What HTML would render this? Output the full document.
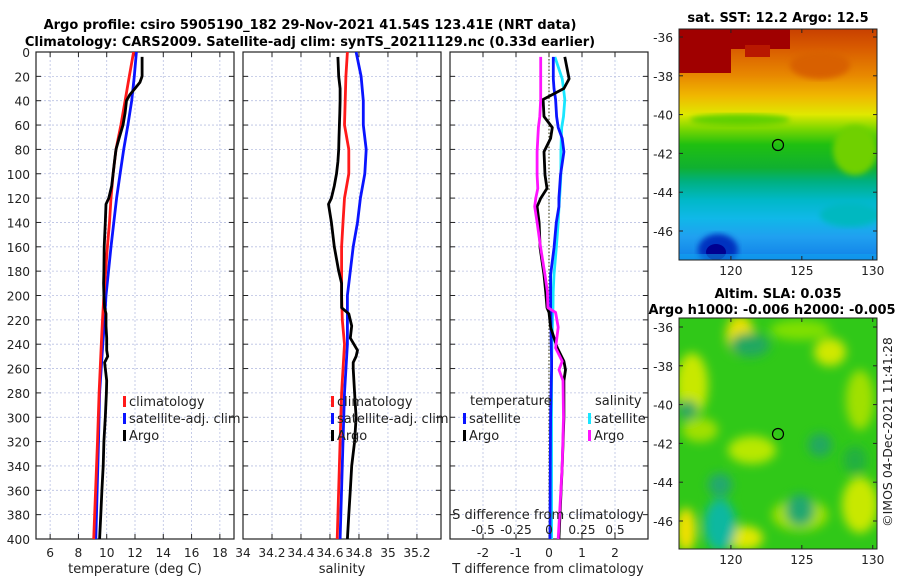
<!DOCTYPE html>
<html><head><meta charset="utf-8">
<style>
html,body{margin:0;padding:0;background:#fff;}
svg{display:block;font-family:"DejaVu Sans","Liberation Sans",sans-serif;}
</style></head>
<body>
<svg id="chart" width="900" height="580" viewBox="0 0 900 580">
<defs>
<linearGradient id="sstGrad" x1="0" y1="0" x2="0" y2="1">
<stop offset="0" stop-color="#c84000"/>
<stop offset="0.08" stop-color="#d85a00"/>
<stop offset="0.2" stop-color="#e88800"/>
<stop offset="0.29" stop-color="#f0b800"/>
<stop offset="0.37" stop-color="#e0e800"/>
<stop offset="0.43" stop-color="#80d800"/>
<stop offset="0.5" stop-color="#20c010"/>
<stop offset="0.6" stop-color="#10b030"/>
<stop offset="0.66" stop-color="#00b080"/>
<stop offset="0.74" stop-color="#00b8c8"/>
<stop offset="0.82" stop-color="#10b8e8"/>
<stop offset="0.9" stop-color="#20a0f0"/>
<stop offset="1" stop-color="#1080e8"/>
</linearGradient>
<filter id="blur4"><feGaussianBlur stdDeviation="5"/></filter>
<filter id="blur2"><feGaussianBlur stdDeviation="3"/></filter>
<clipPath id="clipSST"><rect x="679" y="29" width="198" height="231"/></clipPath>
<clipPath id="clipSLA"><rect x="679" y="318" width="198" height="231"/></clipPath>
<clipPath id="clipP1"><rect x="36" y="52" width="198" height="487"/></clipPath>
<clipPath id="clipP2"><rect x="243" y="52" width="198" height="487"/></clipPath>
<clipPath id="clipP3"><rect x="450" y="52" width="198" height="487"/></clipPath>
</defs>

<text x="310" y="29" text-anchor="middle" font-size="13" font-weight="bold">Argo profile: csiro 5905190_182 29-Nov-2021 41.54S 123.41E (NRT data)</text>
<text x="310" y="46" text-anchor="middle" font-size="13" font-weight="bold">Climatology: CARS2009. Satellite-adj clim: synTS_20211129.nc (0.33d earlier)</text>

<g id="panels"></g>

<g>
<g clip-path="url(#clipSST)">
<rect x="679" y="29" width="198" height="231" fill="url(#sstGrad)"/>
<rect x="679" y="29" width="52" height="44" fill="#a00000"/>
<rect x="730" y="29" width="60" height="20" fill="#a00000"/>
<rect x="745" y="45" width="25" height="12" fill="#b81800"/>
<ellipse cx="820" cy="65" rx="30" ry="14" fill="#d86000" filter="url(#blur2)"/>
<ellipse cx="855" cy="150" rx="22" ry="25" fill="#70d000" filter="url(#blur2)"/>
<ellipse cx="740" cy="120" rx="50" ry="6" fill="#60d000" filter="url(#blur2)"/>
<ellipse cx="850" cy="215" rx="30" ry="12" fill="#00b8c0" filter="url(#blur2)"/>
<ellipse cx="718" cy="250" rx="20" ry="16" fill="#0030c0" filter="url(#blur2)"/>
<ellipse cx="716" cy="252" rx="10" ry="8" fill="#000090"/>
<rect x="679" y="254" width="198" height="6" fill="#10a8f0" opacity="0.5"/>
</g>
<rect x="679" y="29" width="198" height="231" fill="none" stroke="#222" stroke-width="1"/>
<circle cx="778" cy="145" r="5.5" fill="none" stroke="#000" stroke-width="1.2"/>
<text x="778" y="22" text-anchor="middle" font-size="13" font-weight="bold">sat. SST: 12.2 Argo: 12.5</text>
</g>

<g>
<g clip-path="url(#clipSLA)">
<rect x="679" y="318" width="198" height="231" fill="#30c818"/>
<g filter="url(#blur4)">
<ellipse cx="692" cy="385" rx="16" ry="32" fill="#c8e800"/>
<ellipse cx="740" cy="335" rx="14" ry="20" fill="#e8e000"/>
<ellipse cx="800" cy="330" rx="30" ry="10" fill="#80e000"/>
<ellipse cx="830" cy="352" rx="16" ry="14" fill="#d0e800"/>
<ellipse cx="860" cy="400" rx="14" ry="30" fill="#a0e000"/>
<ellipse cx="752" cy="450" rx="24" ry="14" fill="#b8e800"/>
<ellipse cx="700" cy="430" rx="18" ry="12" fill="#a0e000"/>
<ellipse cx="800" cy="515" rx="28" ry="16" fill="#a0e000"/>
<ellipse cx="860" cy="505" rx="18" ry="28" fill="#c8e800"/>
<ellipse cx="686" cy="530" rx="10" ry="22" fill="#f0e000"/>
<ellipse cx="745" cy="538" rx="18" ry="12" fill="#e0e800"/>
<ellipse cx="750" cy="345" rx="20" ry="12" fill="#20a860"/>
<ellipse cx="720" cy="525" rx="16" ry="26" fill="#10b8a0"/>
<ellipse cx="720" cy="485" rx="12" ry="12" fill="#20a870"/>
<ellipse cx="800" cy="510" rx="14" ry="16" fill="#20a870"/>
<ellipse cx="820" cy="445" rx="12" ry="12" fill="#20a860"/>
<ellipse cx="688" cy="410" rx="10" ry="10" fill="#30a860"/>
<ellipse cx="855" cy="460" rx="12" ry="14" fill="#20b040"/>
</g>
</g>
<rect x="679" y="318" width="198" height="231" fill="none" stroke="#222" stroke-width="1"/>
<circle cx="778" cy="434" r="5.5" fill="none" stroke="#000" stroke-width="1.2"/>
<text x="778" y="298" text-anchor="middle" font-size="13" font-weight="bold">Altim. SLA: 0.035</text>
<text x="772" y="314" text-anchor="middle" font-size="13" font-weight="bold">Argo h1000: -0.006 h2000: -0.005</text>
</g>
<text transform="translate(892,432) rotate(-90)" text-anchor="middle" font-size="12.5" fill="#222">©IMOS 04-Dec-2021 11:41:28</text>
<g id="mapaxes"></g>
</svg>

<script>
// ---------- data ----------
const depthTicks = [0,20,40,60,80,100,120,140,160,180,200,220,240,260,280,300,320,340,360,380,400];
const tempTicks = [6,8,10,12,14,16,18];
const salTicks = [34,34.2,34.4,34.6,34.8,35,35.2];
const salTickLabels = ["34","34.2","34.4","34.6","34.8","35","35.2"];
const tdiffTicks = [-2,-1,0,1,2];
const sdiffTicks = [-0.5,-0.25,0,0.25,0.5];
const sdiffTickLabels = ["-0.5","-0.25","0","0.25","0.5"];

const climDepth = [0,20,40,60,80,100,120,140,160,200,220,240,280,320,400];
const climTemp = [11.9,11.6,11.3,11.0,10.66,10.45,10.3,10.2,10.05,9.8,9.7,9.62,9.46,9.35,9.08];
const satTemp = [12.1,11.95,11.77,11.5,11.2,10.95,10.7,10.5,10.3,9.95,9.85,9.72,9.5,9.42,9.23];
const climSal = [34.72,34.71,34.705,34.70,34.73,34.73,34.70,34.69,34.68,34.68,34.685,34.70,34.68,34.67,34.65];
const satSal = [34.78,34.815,34.83,34.83,34.85,34.84,34.81,34.79,34.76,34.72,34.72,34.72,34.70,34.69,34.67];

const argoDepth = [4,20,25,30,35,40,50,60,70,80,90,100,110,120,125,140,160,180,190,200,210,215,225,235,245,250,255,260,270,280,300,320,340,360,380,400];
const argoTemp = [12.5,12.5,12.35,12.0,11.64,11.4,11.3,11.15,10.9,10.66,10.55,10.45,10.35,10.15,9.95,9.9,9.82,9.8,9.78,9.8,9.85,9.95,9.95,10.0,10.0,10.07,9.85,9.9,10.0,9.98,9.9,9.8,9.75,9.66,9.58,9.5];
const argoSal = [34.655,34.66,34.665,34.67,34.67,34.67,34.668,34.665,34.662,34.66,34.655,34.645,34.63,34.61,34.59,34.61,34.63,34.66,34.68,34.68,34.68,34.73,34.75,34.74,34.79,34.78,34.76,34.76,34.765,34.77,34.78,34.77,34.75,34.74,34.73,34.72];

const diffDepth = [4,22,30,39,53,62,71,82,101,112,120,127,140,161,183,197,210,214,226,243,254,261,270,300,340,400];
const argoTDiff = [0.48,0.61,0.45,-0.18,-0.15,0.1,0.05,-0.15,-0.12,-0.06,-0.25,-0.36,-0.3,-0.27,-0.15,-0.1,-0.06,0.0,0.05,0.25,0.45,0.5,0.45,0.45,0.4,0.3];
const argoSDiff = [-0.063,-0.063,-0.063,-0.063,-0.07,-0.08,-0.085,-0.09,-0.09,-0.085,-0.1,-0.108,-0.09,-0.063,-0.03,-0.012,-0.008,0.05,0.07,0.05,0.1,0.076,0.106,0.11,0.1,0.07];
const satTDiff = [0.13,0.13,0.15,0.2,0.23,0.28,0.4,0.45,0.35,0.32,0.3,0.3,0.22,0.15,0.05,0.05,0.05,0.06,0.06,0.07,0.08,0.08,0.07,0.05,0.04,0.03];
const satSDiff = [0.045,0.1,0.11,0.12,0.11,0.096,0.093,0.09,0.09,0.085,0.08,0.076,0.07,0.055,0.038,0.032,0.03,0.028,0.026,0.022,0.02,0.02,0.02,0.02,0.02,0.02];

const lonTicks = [120,125,130];
const latTicks = [-36,-38,-40,-42,-44,-46];

// ---------- helpers ----------
const NS = "http://www.w3.org/2000/svg";
const panelsG = document.getElementById("panels");
function mk(tag, attrs, parent){const e=document.createElementNS(NS,tag);for(const k in attrs)e.setAttribute(k,attrs[k]);(parent||panelsG).appendChild(e);return e;}
const TOP=52, BOT=539, TFS=12.2;
const yD = d => TOP + (d/400)*(BOT-TOP);
function lin(d0,d1,p0,p1){return v=>p0+(v-d0)/(d1-d0)*(p1-p0);}

const P1={x0:36,x1:234}, P2={x0:243,x1:441}, P3={x0:450,x1:648};
const xT = lin(5,19,P1.x0,P1.x1);
const xS = lin(34,35.366,P2.x0,P2.x1);
const xTD = lin(-3,3,P3.x0,P3.x1);
const xSD = lin(-0.75,0.75,P3.x0,P3.x1);

function frame(P, xticks, xf, name){
  const g=mk("g",{});
  
  
  depthTicks.forEach(d=>{ if(d>0 && d<400) mk("line",{x1:P.x0,x2:P.x1,y1:yD(d),y2:yD(d),stroke:"#b9c0e2","stroke-width":0.8,"stroke-dasharray":"2,2"},g); });
  xticks.forEach(v=>{ const x=xf(v); if(x>P.x0+1 && x<P.x1-1) mk("line",{x1:x,x2:x,y1:TOP,y2:BOT,stroke:"#b9c0e2","stroke-width":0.8,"stroke-dasharray":"2,2"},g); });
  depthTicks.forEach(d=>{ mk("line",{x1:P.x0,x2:P.x0+5,y1:yD(d),y2:yD(d),stroke:"#222"},g); mk("line",{x1:P.x1-5,x2:P.x1,y1:yD(d),y2:yD(d),stroke:"#222"},g); });
  xticks.forEach(v=>{ const x=xf(v); mk("line",{x1:x,x2:x,y1:TOP,y2:TOP+5,stroke:"#222"},g); mk("line",{x1:x,x2:x,y1:BOT-5,y2:BOT,stroke:"#222"},g); });
  mk("rect",{x:P.x0,y:TOP,width:P.x1-P.x0,height:BOT-TOP,fill:"none",stroke:"#222","stroke-width":1.2},g);
  return g;
}
function line(xs, ds, xf, color, clip, name, w){
  const pts = xs.map((v,i)=>xf(v).toFixed(1)+","+yD(ds[i]).toFixed(1)).join(" ");
  const p=mk("polyline",{points:pts,fill:"none",stroke:color,"stroke-width":w||2.8,"stroke-linejoin":"round","clip-path":"url(#"+clip+")"});
  
  
}
function txt(x,y,s,opts){const t=mk("text",Object.assign({x:x,y:y,"font-size":13,fill:"#222"},opts||{}));t.textContent=s;return t;}
function legend(x,y,color,label,name){
  const g=mk("g",{});
  
  
  mk("rect",{x:x,y:y-9,width:3,height:11,fill:color},g);
  const t=mk("text",{x:x+6,y:y+1,"font-size":13,fill:"#222"},g);t.textContent=label;
}

// panel 1
frame(P1,tempTicks,xT,"temperature-panel");
depthTicks.forEach(d=>{ const t=txt(30,yD(d)+5,String(d),{"text-anchor":"end","font-size":TFS});
  
   });
tempTicks.forEach(v=>{ const t=txt(xT(v),557,String(v),{"text-anchor":"middle","font-size":TFS});
  
   });
const tt1=txt(135,573,"temperature (deg C)",{"text-anchor":"middle"});


line(satTemp,climDepth,xT,"#0a14ff","clipP1","sat-temp-line");
line(climTemp,climDepth,xT,"#ff1a1a","clipP1","clim-temp-line");
line(argoTemp,argoDepth,xT,"#000","clipP1","argo-temp-line");
legend(123,405,"#ff1a1a","climatology","legend-climatology");
legend(123,422,"#0a14ff","satellite-adj. clim","legend-satellite-adj");
legend(123,439,"#000","Argo","legend-argo");

// panel 2
frame(P2,salTicks,xS,"salinity-panel");
salTicks.forEach((v,i)=>{ const t=txt(xS(v),557,salTickLabels[i],{"text-anchor":"middle","font-size":TFS});
  
   });
const tt2=txt(342,573,"salinity",{"text-anchor":"middle"});


line(satSal,climDepth,xS,"#0a14ff","clipP2","sat-sal-line");
line(climSal,climDepth,xS,"#ff1a1a","clipP2","clim-sal-line");
line(argoSal,argoDepth,xS,"#000","clipP2","argo-sal-line");
legend(331,405,"#ff1a1a","climatology","legend2-climatology");
legend(331,422,"#0a14ff","satellite-adj. clim","legend2-satellite-adj");
legend(331,439,"#000","Argo","legend2-argo");

// panel 3
frame(P3,tdiffTicks,xTD,"difference-panel");
mk("line",{x1:xTD(0),x2:xTD(0),y1:TOP,y2:BOT,stroke:"#555530","stroke-width":1.2,"stroke-dasharray":"1.5,2"});
line(satSDiff,diffDepth,xSD,"#19e6ff","clipP3","sat-sdiff-line");
line(satTDiff,diffDepth,xTD,"#0a14ff","clipP3","sat-tdiff-line");
line(argoTDiff,diffDepth,xTD,"#000","clipP3","argo-tdiff-line");
line(argoSDiff,diffDepth,xSD,"#ff14ff","clipP3","argo-sdiff-line");
tdiffTicks.forEach(v=>{ const t=txt(xTD(v),557,String(v),{"text-anchor":"middle","font-size":TFS});
  
   });
const tt3=txt(548,573,"T difference from climatology",{"text-anchor":"middle"});


const st3=txt(548,519,"S difference from climatology",{"text-anchor":"middle"});


sdiffTicks.forEach((v,i)=>{ const t=txt(xSD(v),534,sdiffTickLabels[i],{"text-anchor":"middle","font-size":TFS});
  
   });
const lt=txt(470,405,"temperature",{});


const ls=txt(595,405,"salinity",{});


legend(463,422,"#0a14ff","satellite","legend3-temp-satellite");
legend(463,439,"#000","Argo","legend3-temp-argo");
legend(588,422,"#19e6ff","satellite","legend3-sal-satellite");
legend(588,439,"#ff14ff","Argo","legend3-sal-argo");

// map axes
const ma=document.getElementById("mapaxes");
const xLon = lin(116.34,130.3,679,877);
function mapAxes(y0,y1,lat0pix,name){
  const yLat = lat => lat0pix + (-36-lat)*19.4;
  lonTicks.forEach(v=>{
    const x=xLon(v);
    mk("line",{x1:x,x2:x,y1:y1-4,y2:y1,stroke:"#222"},ma);
    mk("line",{x1:x,x2:x,y1:y0,y2:y0+4,stroke:"#222"},ma);
    const t=mk("text",{x:x,y:y1+15,"text-anchor":"middle","font-size":TFS,fill:"#222"},ma); t.textContent=String(v);
    
    
  });
  latTicks.forEach(v=>{
    const y=yLat(v);
    mk("line",{x1:679,x2:683,y1:y,y2:y,stroke:"#222"},ma);
    mk("line",{x1:873,x2:877,y1:y,y2:y,stroke:"#222"},ma);
    const t=mk("text",{x:673,y:y+5,"text-anchor":"end","font-size":TFS,fill:"#222"},ma); t.textContent=String(v);
    
    
  });
}
mapAxes(29,260,37,"sst-map");
mapAxes(318,549,327,"sla-map");
</script>
</body></html>
